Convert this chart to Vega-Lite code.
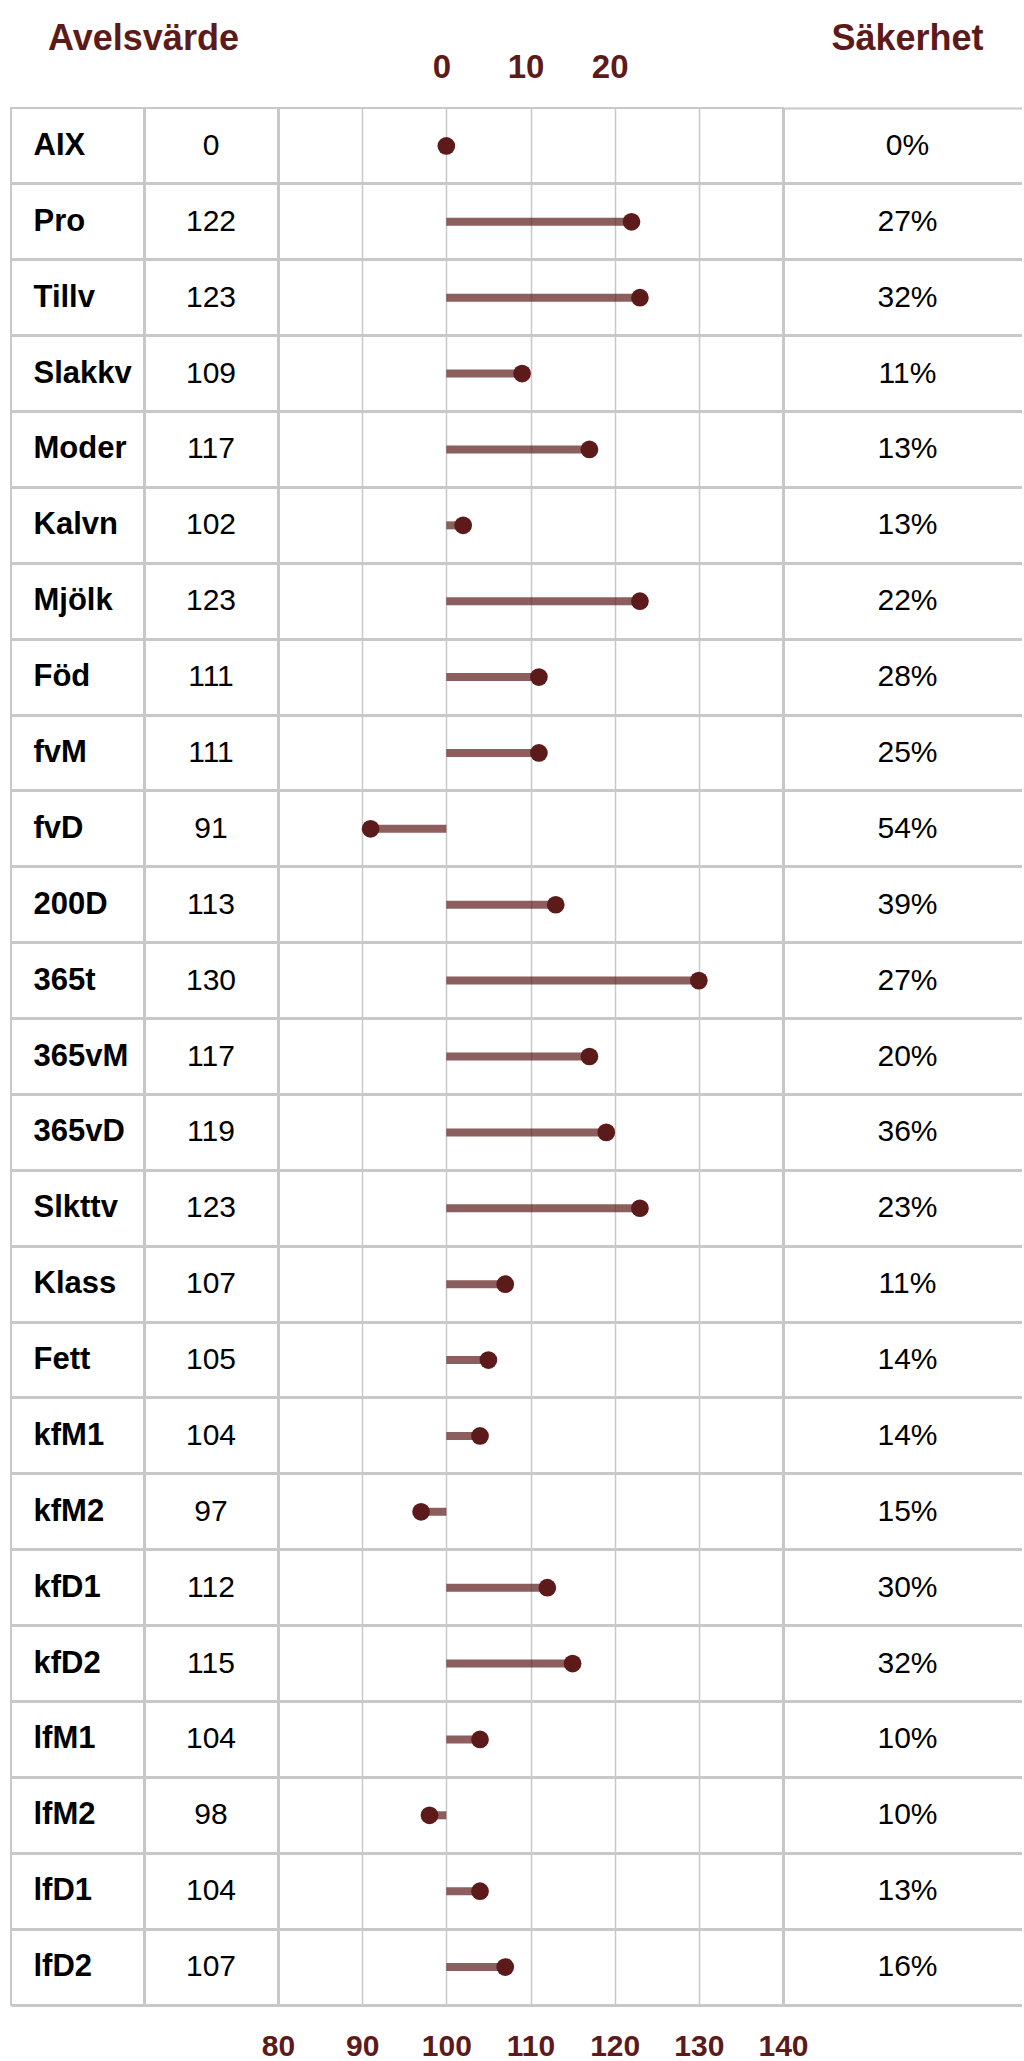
{
  "$schema": "https://vega.github.io/schema/vega-lite/v6.json",
  "padding": {"left": 10, "top": 20, "right": 0, "bottom": 0},
  "spacing": 0,
  "bounds": "flush",
  "data": {
    "values": [
      {"trait": "AIX", "value": "0", "plot": 100, "acc": "0%"},
      {"trait": "Pro", "value": "122", "plot": 122, "acc": "27%"},
      {"trait": "Tillv", "value": "123", "plot": 123, "acc": "32%"},
      {"trait": "Slakkv", "value": "109", "plot": 109, "acc": "11%"},
      {"trait": "Moder", "value": "117", "plot": 117, "acc": "13%"},
      {"trait": "Kalvn", "value": "102", "plot": 102, "acc": "13%"},
      {"trait": "Mjölk", "value": "123", "plot": 123, "acc": "22%"},
      {"trait": "Föd", "value": "111", "plot": 111, "acc": "28%"},
      {"trait": "fvM", "value": "111", "plot": 111, "acc": "25%"},
      {"trait": "fvD", "value": "91", "plot": 91, "acc": "54%"},
      {"trait": "200D", "value": "113", "plot": 113, "acc": "39%"},
      {"trait": "365t", "value": "130", "plot": 130, "acc": "27%"},
      {"trait": "365vM", "value": "117", "plot": 117, "acc": "20%"},
      {"trait": "365vD", "value": "119", "plot": 119, "acc": "36%"},
      {"trait": "Slkttv", "value": "123", "plot": 123, "acc": "23%"},
      {"trait": "Klass", "value": "107", "plot": 107, "acc": "11%"},
      {"trait": "Fett", "value": "105", "plot": 105, "acc": "14%"},
      {"trait": "kfM1", "value": "104", "plot": 104, "acc": "14%"},
      {"trait": "kfM2", "value": "97", "plot": 97, "acc": "15%"},
      {"trait": "kfD1", "value": "112", "plot": 112, "acc": "30%"},
      {"trait": "kfD2", "value": "115", "plot": 115, "acc": "32%"},
      {"trait": "lfM1", "value": "104", "plot": 104, "acc": "10%"},
      {"trait": "lfM2", "value": "98", "plot": 98, "acc": "10%"},
      {"trait": "lfD1", "value": "104", "plot": 104, "acc": "13%"},
      {"trait": "lfD2", "value": "107", "plot": 107, "acc": "16%"}
    ]
  },
  "hconcat": [
    {
      "width": 133,
      "height": 1897,
      "title": {"text": "Avelsvärde", "anchor": "middle", "dx": 66, "offset": 14, "baseline": "bottom", "fontSize": 36, "fontWeight": "bold", "color": "#5c1a1a", "font": "Liberation Sans"},
      "mark": {"type": "text", "align": "left", "dx": -44, "fontSize": 31, "fontWeight": "bold", "font": "Liberation Sans", "color": "#000000"},
      "encoding": {
        "y": {"field": "trait", "type": "nominal", "sort": null, "scale": {"type": "band", "paddingInner": 0, "paddingOuter": 0},
              "axis": {"labels": false, "ticks": false, "title": null, "domain": false, "grid": true, "gridWidth": 3, "gridColor": "#c8c8c8", "bandPosition": 1}},
        "text": {"field": "trait"}
      }
    },
    {
      "width": 134,
      "height": 1897,
      "mark": {"type": "text", "align": "center", "fontSize": 30, "font": "Liberation Sans", "color": "#000000"},
      "encoding": {
        "y": {"field": "trait", "type": "nominal", "sort": null, "scale": {"type": "band", "paddingInner": 0, "paddingOuter": 0},
              "axis": {"labels": false, "ticks": false, "title": null, "domain": true, "domainWidth": 3, "domainColor": "#c8c8c8", "grid": true, "gridWidth": 3, "gridColor": "#c8c8c8", "bandPosition": 1}},
        "text": {"field": "value"}
      }
    },
    {
      "width": 505,
      "height": 1897,
      "encoding": {
        "y": {"field": "trait", "type": "nominal", "sort": null, "scale": {"type": "band", "paddingInner": 0, "paddingOuter": 0},
              "axis": {"labels": false, "ticks": false, "title": null, "domain": true, "domainWidth": 3, "domainColor": "#c8c8c8", "grid": true, "gridWidth": 3, "gridColor": "#c8c8c8", "bandPosition": 1}}
      },
      "layer": [
        {
          "mark": {"type": "rule", "strokeWidth": 8, "color": "#5c1a1a", "opacity": 0.7},
          "encoding": {
            "x": {"field": "plot", "type": "quantitative", "scale": {"domain": [80, 140], "nice": false, "zero": false},
                  "axis": {"orient": "bottom", "values": [80, 90, 100, 110, 120, 130, 140], "grid": true, "gridWidth": 1.5, "gridColor": "#c8c8c8", "ticks": false, "tickSize": 0, "domain": false, "title": null, "labelFlush": false, "labelOverlap": false, "labelBound": false, "labelPadding": 26, "labelFontSize": 30, "labelFontWeight": "bold", "labelColor": "#5c1a1a", "labelFont": "Liberation Sans"}},
            "x2": {"datum": 100}
          }
        },
        {
          "mark": {"type": "circle", "size": 314, "color": "#5c1a1a", "opacity": 1},
          "encoding": {
            "x": {"field": "plot", "type": "quantitative",
                  "axis": {"orient": "top", "values": [100, 110, 120], "labelExpr": "format(datum.value - 100, 'd')", "grid": false, "ticks": false, "tickSize": 0, "domain": false, "title": null, "labelFlush": false, "labelOverlap": false, "labelPadding": 24, "labelOffset": -5, "labelFontSize": 33, "labelFontWeight": "bold", "labelColor": "#5c1a1a", "labelFont": "Liberation Sans"}}
          }
        }
      ],
      "resolve": {"axis": {"x": "independent"}}
    },
    {
      "width": 239,
      "height": 1897,
      "view": {"stroke": null},
      "title": {"text": "Säkerhet", "anchor": "middle", "dx": 5, "offset": 14, "baseline": "bottom", "fontSize": 36, "fontWeight": "bold", "color": "#5c1a1a", "font": "Liberation Sans"},
      "mark": {"type": "text", "align": "center", "dx": 5, "fontSize": 30, "font": "Liberation Sans", "color": "#000000"},
      "encoding": {
        "y": {"field": "trait", "type": "nominal", "sort": null, "scale": {"type": "band", "paddingInner": 0, "paddingOuter": 0},
              "axis": {"labels": false, "ticks": false, "title": null, "domain": true, "domainWidth": 3, "domainColor": "#c8c8c8", "grid": true, "gridWidth": 3, "gridColor": "#c8c8c8", "bandPosition": 1}},
        "x": {"datum": 0, "type": "quantitative", "scale": {"domain": [-1, 1]},
              "axis": {"orient": "top", "domain": true, "domainColor": "#c8c8c8", "domainWidth": 2, "labels": false, "ticks": false, "tickSize": 0, "grid": false, "title": null}},
        "text": {"field": "acc"}
      }
    }
  ],
  "config": {
    "view": {"stroke": "#c8c8c8", "strokeWidth": 2},
    "font": "Liberation Sans",
    "background": "#ffffff"
  }
}
